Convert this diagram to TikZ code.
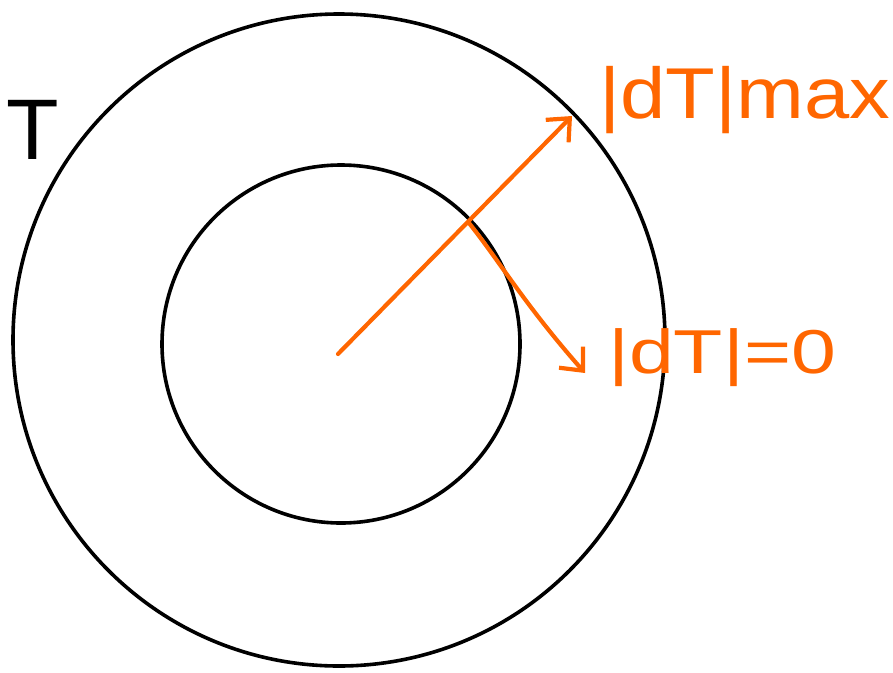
\documentclass[tikz,border=0pt]{standalone}
\usepackage{fontspec}
\setmainfont{Liberation Sans}
\usetikzlibrary{arrows.meta}
\definecolor{penorange}{RGB}{255,102,0}
\tikzset{
  ring/.style={draw=black, line width=3.6pt},
  vec/.style={draw=penorange, line width=4.2pt, line cap=round, line join=round, -{Straight Barb[length=18pt,width=32pt,line width=4.2pt]}},
  lbl/.style={text=penorange, inner sep=0pt},
}
\begin{document}
\begin{tikzpicture}[x=1pt,y=-1pt]
\useasboundingbox (0,0) rectangle (893,672);
\node[ring, circle, minimum size=652pt, inner sep=0pt] (outer) at (339,340) {};
\node[ring, circle, minimum size=358pt, inner sep=0pt] (inner) at (341,344) {};
\coordinate (o) at (338,354);
\coordinate (tipA) at (572,116);
\coordinate (mid) at (469,223);
\coordinate (tipB) at (585,373);
\draw[vec] (o) -- (tipA);
\draw[vec] (mid) .. controls (500,262) and (525,305) .. (tipB);
\node[lbl, font=\fontsize{72}{72}\selectfont] (max) at (745,100) {\scalebox{1.13}[1]{|dT|max}};
\node[lbl, font=\fontsize{62}{62}\selectfont] (zero) at (722,358) {\scalebox{1.3}[1]{|dT|=0}};
\node[inner sep=0pt, font=\fontsize{86}{86}\selectfont] (T) at (33,130) {T};
\end{tikzpicture}
\end{document}
